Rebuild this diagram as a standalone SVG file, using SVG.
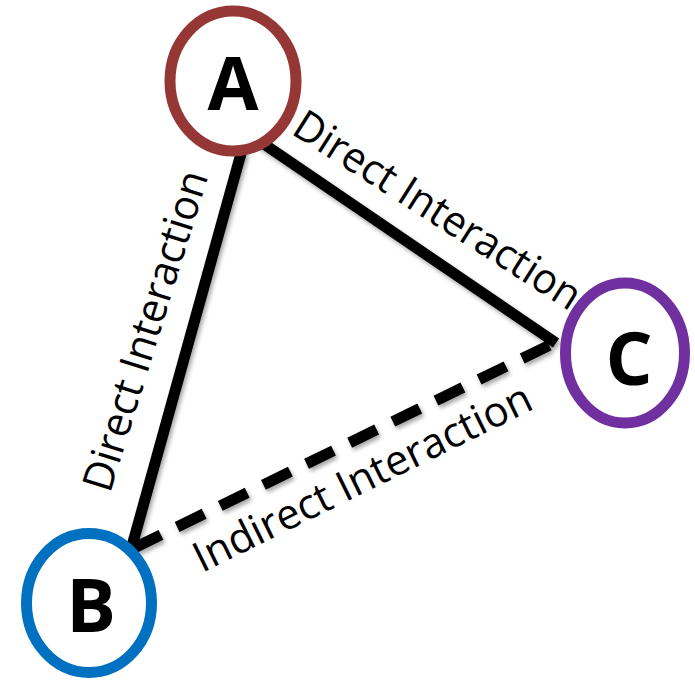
<svg xmlns="http://www.w3.org/2000/svg" width="695" height="680" viewBox="0 0 695 680">
<defs>
<filter id="sh" x="-20%" y="-20%" width="140%" height="140%">
<feGaussianBlur in="SourceAlpha" stdDeviation="2"/>
<feOffset dx="2" dy="3" result="b"/>
<feComponentTransfer><feFuncA type="linear" slope="0.35"/></feComponentTransfer>
<feMerge><feMergeNode/><feMergeNode in="SourceGraphic"/></feMerge>
</filter>
</defs>
<style>
.edge{stroke:#000;stroke-width:11;fill:none}
.dash{stroke-dasharray:30 18}
.node{fill:#fff;stroke-width:11}
.nl{font-family:"Open Sans","Noto Sans",sans-serif;font-weight:bold;font-size:74px;fill:#000;text-anchor:middle}
.el{font-family:"Open Sans","Noto Sans",sans-serif;font-size:42px;fill:#000}
</style>
<rect width="695" height="680" fill="#fff"/>
<g id="connectors" filter="url(#sh)">
<line class="edge" x1="242" y1="150" x2="132" y2="546"/>
<line class="edge" x1="258" y1="140" x2="556" y2="343"/>
<line class="edge dash" x1="134" y1="548" x2="556" y2="342"/>
</g>
<g id="labels">
<text class="el" transform="translate(110,494) rotate(-72.8)" textLength="333" lengthAdjust="spacingAndGlyphs">Direct Interaction</text>
<text class="el" transform="translate(290,133) rotate(32.5)" textLength="332" lengthAdjust="spacingAndGlyphs">Direct Interaction</text>
<text class="el" transform="translate(202,573) rotate(-26.3)" textLength="372" lengthAdjust="spacingAndGlyphs">Indirect Interaction</text>
</g>
<g id="A">
<ellipse class="node" cx="233" cy="81" rx="63" ry="70" stroke="#953735"/>
<text class="nl" x="233" y="110">A</text>
</g>
<g id="B">
<ellipse class="node" cx="89" cy="603" rx="62.5" ry="69.5" stroke="#0070C0"/>
<text class="nl" x="91" y="632">B</text>
</g>
<g id="C">
<ellipse class="node" cx="625" cy="353" rx="59.5" ry="70" stroke="#7030A0"/>
<text class="nl" x="629" y="385">C</text>
</g>
</svg>
